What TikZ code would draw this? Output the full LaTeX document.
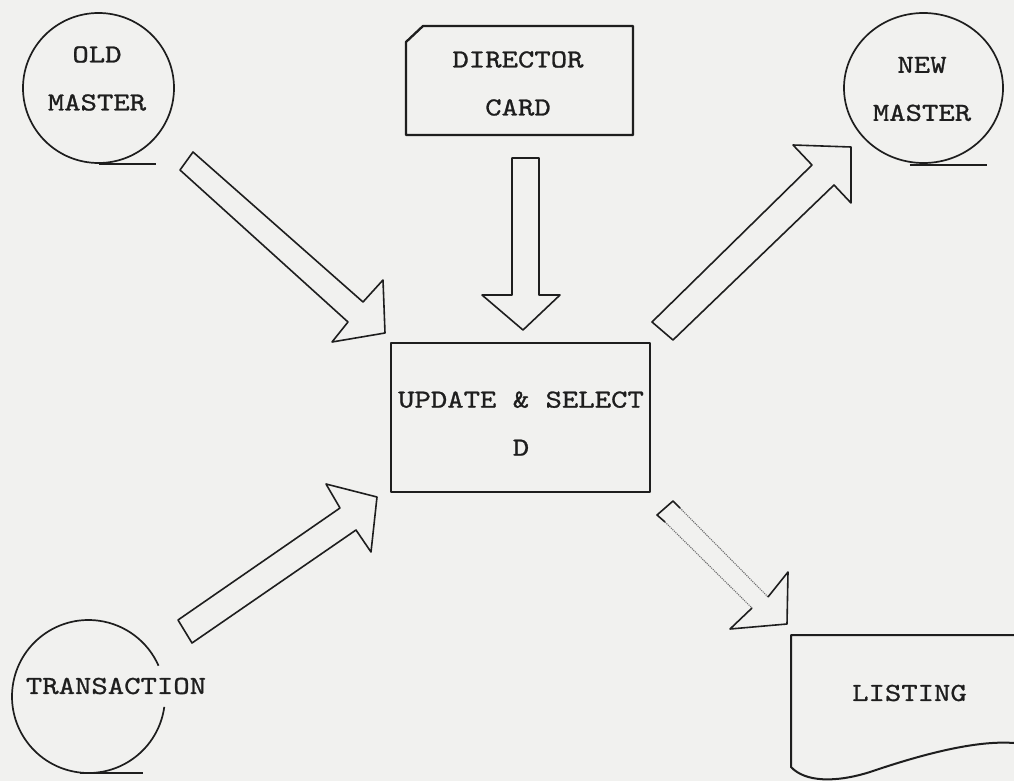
\documentclass[tikz,border=0pt]{standalone}
\usepackage{fontspec}
\usetikzlibrary{shapes.geometric,calc}
\definecolor{inkc}{RGB}{30,30,30}
\definecolor{bgc}{RGB}{241,241,239}
\definecolor{faint}{RGB}{110,110,110}
\newfontfamily\twfam{lmmono10-regular.otf}[FakeStretch=1.2,FakeBold=1.0]
\newcommand{\twfont}{\twfam\fontsize{26}{48}\selectfont}
\begin{document}
\begin{tikzpicture}[x=1pt,y=-1pt,line join=round,
  ink/.style={draw=inkc,line width=1.7pt},
  blockarrow/.style={draw=inkc,line width=1.6pt},
  lbl/.style={font=\twfont,text=inkc,inner sep=0pt,align=center,anchor=center}]
\fill[bgc] (0,0) rectangle (1014,781);
\useasboundingbox (0,0) rectangle (1014,781);

% OLD MASTER tape
\node[ink,ellipse,minimum width=151pt,minimum height=150pt,inner sep=0pt] (oldm) at (98.5,88) {};
\draw[ink] (oldm.south) -- ++(57,0);
\node[lbl] (oldt) at (97,78.5) {OLD\\MASTER};

% NEW MASTER tape
\node[ink,ellipse,minimum width=159pt,minimum height=150pt,inner sep=0pt] (newm) at (923.5,88) {};
\draw[ink] ($(newm.south)+(-14,1)$) -- ++(77,0);
\node[lbl] (newt) at (922,89) {NEW\\MASTER};

% TRANSACTION tape (open where the text crosses it)
\coordinate (trc) at (88.5,696.5);
\draw[ink] ([shift={(7.8:76.5)}]trc) arc[start angle=7.8,end angle=336.2,radius=76.5];
\draw[ink] ($(trc)+(-8.5,76.5)$) -- ++(63,0);
\node[lbl] (trt) at (116,686) {TRANSACTION};

% DIRECTOR CARD
\draw[draw=inkc,line width=2.3pt] (406,42) -- (423,26) -- (633,26) -- (633,135) -- (406,135) -- cycle;
\node[lbl] (dirt) at (518,83.5) {DIRECTOR\\CARD};

% UPDATE & SELECT box
\node[draw=inkc,line width=2.6pt,minimum width=259pt,minimum height=149pt,inner sep=0pt] (upd) at (520.5,417.5) {};
\node[lbl] (updt) at (521,423.5) {UPDATE \& SELECT\\D};

% LISTING document
\draw[draw=inkc,line width=2pt] (1014,635) -- (791,635) -- (791,767)
  .. controls (805,782) and (835,783) .. (870,772)
  .. controls (920,755) and (975,740) .. (1014,743);
\node[lbl] (lstt) at (909.5,693) {LISTING};

% block arrows
\draw[blockarrow] (193,152) -- (363,302) -- (383,280) -- (385,333) -- (332,342) -- (348,322) -- (180,170) -- cycle;
\draw[blockarrow] (512,158) -- (539,158) -- (539,295) -- (560,295) -- (523,330) -- (482,295) -- (512,295) -- cycle;
\draw[blockarrow] (652,322) -- (812,165) -- (793,145) -- (851,147) -- (851,203) -- (834,185) -- (673,340) -- cycle;
\draw[blockarrow] (178,620) -- (340,508) -- (326,484) -- (377,497) -- (371,552) -- (356,530) -- (192,643) -- cycle;

% faint arrow to LISTING
\draw[blockarrow] (680,508) -- (673,501) -- (657,515) -- (665,522);
\draw[draw=faint,line width=1.1pt,densely dotted] (680,508) -- (768,597);
\draw[draw=faint,line width=1.1pt,densely dotted] (665,522) -- (752,608);
\draw[blockarrow] (768,597) -- (788,572) -- (787,624) -- (730,629) -- (752,608);
\end{tikzpicture}
\end{document}
